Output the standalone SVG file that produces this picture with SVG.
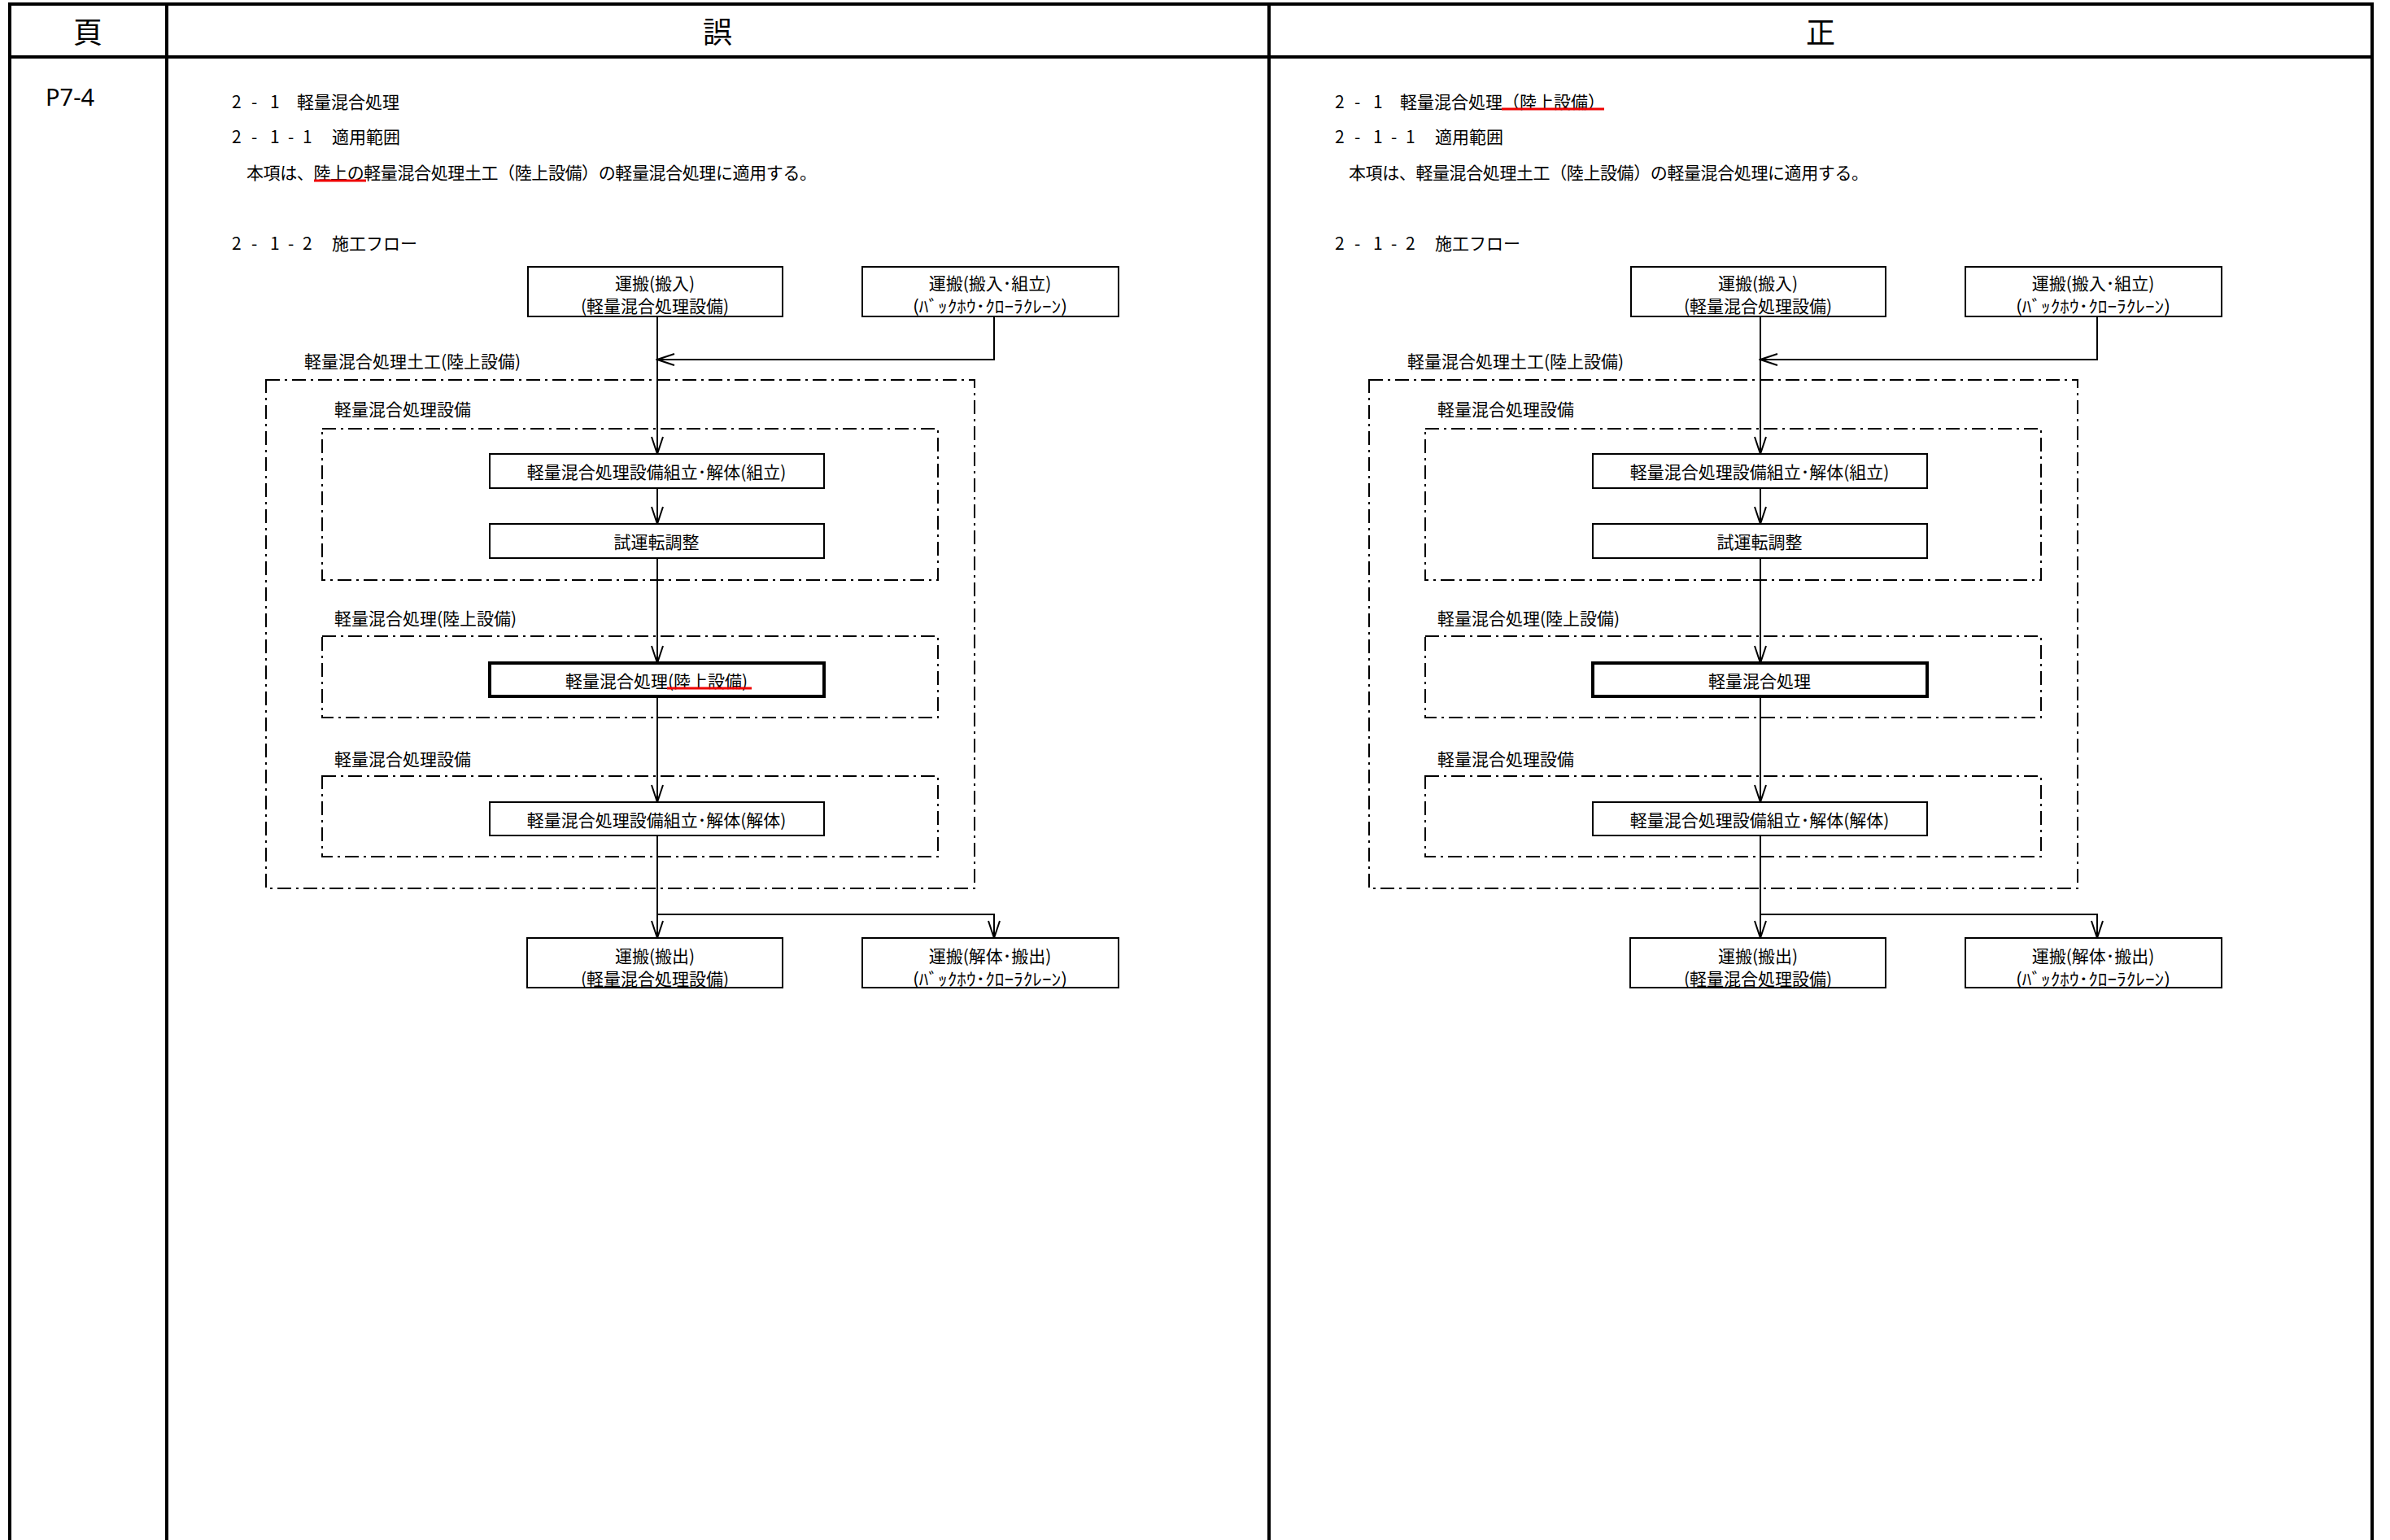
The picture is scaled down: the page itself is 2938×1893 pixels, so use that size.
<svg xmlns="http://www.w3.org/2000/svg" width="2938" height="1893" viewBox="0 0 2938 1893">
<style>
.t{font-family:'Noto Sans CJK JP','Noto Sans',sans-serif;font-size:21px;fill:#000;dominant-baseline:central}
.c{text-anchor:middle}
.hd{font-size:36px}
.pg{font-family:'Noto Sans','Noto Sans CJK JP',sans-serif;font-size:29px;fill:#000}
.box{fill:#fff;stroke:#000;stroke-width:2}
.thick{stroke-width:4}
.dd{fill:none;stroke:#000;stroke-width:2;stroke-dasharray:17 6 3 6}
.conn{fill:none;stroke:#000;stroke-width:2}
.red{stroke:#e00;stroke-width:3}
.frame{stroke:#000;stroke-width:4}
</style>
<defs>
<marker id="arr" markerUnits="userSpaceOnUse" viewBox="-23 -9 25 18" refX="0" refY="0" markerWidth="25" markerHeight="18" orient="auto">
<path d="M-21,-7 L0,0 L-21,7" fill="none" stroke="#000" stroke-width="2"/>
</marker>
</defs>
<rect x="0" y="0" width="2938" height="1893" fill="#fff"/>
<g id="table">
<line class="frame" x1="10" y1="5" x2="2918" y2="5"/>
<line class="frame" x1="10" y1="70" x2="2918" y2="70"/>
<line class="frame" x1="12" y1="3" x2="12" y2="1893"/>
<line class="frame" x1="205" y1="3" x2="205" y2="1893"/>
<line class="frame" x1="1560" y1="3" x2="1560" y2="1893"/>
<line class="frame" x1="2916" y1="3" x2="2916" y2="1893"/>
<text class="t c hd" x="108" y="37">頁</text>
<text class="t c hd" x="882" y="37">誤</text>
<text class="t c hd" x="2238" y="37">正</text>
<text class="pg" x="56" y="130">P7-4</text>
</g>

<!-- LEFT (誤) -->
<g id="L-text">
<text class="t" x="285 309 332" y="124">2-1</text>
<text class="t" x="365" y="124">軽量混合処理</text>
<text class="t" x="285 309 332 354 372" y="167">2-1-1</text>
<text class="t" x="408" y="167">適用範囲</text>
<text class="t" x="303" y="211" textLength="701" lengthAdjust="spacing">本項は、陸上の軽量混合処理土工（陸上設備）の軽量混合処理に適用する。</text>
<line class="red" x1="386" y1="222" x2="450" y2="222"/>
<text class="t" x="285 309 332 354 372" y="298">2-1-2</text>
<text class="t" x="408" y="298">施工フロー</text>
</g>
<g id="L-groups">
<rect class="dd" x="327" y="467" width="871" height="625"/>
<text class="t" x="374" y="443">軽量混合処理土工(陸上設備)</text>
<rect class="dd" x="396" y="527" width="757" height="186"/>
<text class="t" x="411" y="502">軽量混合処理設備</text>
<rect class="dd" x="396" y="782" width="757" height="100"/>
<text class="t" x="411" y="759">軽量混合処理(陸上設備)</text>
<rect class="dd" x="396" y="954" width="757" height="99"/>
<text class="t" x="411" y="932">軽量混合処理設備</text>
</g>
<g id="L-connectors">
<path class="conn" d="M808,389 V558" marker-end="url(#arr)"/>
<path class="conn" d="M1222,389 V442 H808" marker-end="url(#arr)"/>
<path class="conn" d="M808,600 V644" marker-end="url(#arr)"/>
<path class="conn" d="M808,686 V815" marker-end="url(#arr)"/>
<path class="conn" d="M808,856 V986" marker-end="url(#arr)"/>
<path class="conn" d="M808,1027 V1153" marker-end="url(#arr)"/>
<path class="conn" d="M808,1124 H1222 V1153" marker-end="url(#arr)"/>
</g>
<g id="L-A">
<rect class="box" x="649" y="328" width="313" height="61"/>
<text class="t c" x="805" y="347">運搬(搬入)</text>
<text class="t c" x="805" y="375">(軽量混合処理設備)</text>
</g>
<g id="L-B">
<rect class="box" x="1060" y="328" width="315" height="61"/>
<text class="t c" x="1217" y="347">運搬(搬入･組立)</text>
<text class="t c" x="1217" y="375" textLength="190" lengthAdjust="spacingAndGlyphs">(ﾊﾞｯｸﾎｳ･ｸﾛｰﾗｸﾚｰﾝ)</text>
</g>
<g id="L-C">
<rect class="box" x="602" y="558" width="411" height="42"/>
<text class="t c" x="807" y="579">軽量混合処理設備組立･解体(組立)</text>
</g>
<g id="L-D">
<rect class="box" x="602" y="644" width="411" height="42"/>
<text class="t c" x="807" y="665">試運転調整</text>
</g>
<g id="L-E">
<rect class="box thick" x="602" y="815" width="411" height="41"/>
<text class="t c" x="807" y="836">軽量混合処理(陸上設備)</text>
<line class="red" x1="820" y1="846" x2="924" y2="846"/>
</g>
<g id="L-F">
<rect class="box" x="602" y="986" width="411" height="41"/>
<text class="t c" x="807" y="1007">軽量混合処理設備組立･解体(解体)</text>
</g>
<g id="L-G">
<rect class="box" x="648" y="1153" width="314" height="61"/>
<text class="t c" x="805" y="1174">運搬(搬出)</text>
<text class="t c" x="805" y="1202">(軽量混合処理設備)</text>
</g>
<g id="L-H">
<rect class="box" x="1060" y="1153" width="315" height="61"/>
<text class="t c" x="1217" y="1174">運搬(解体･搬出)</text>
<text class="t c" x="1217" y="1202" textLength="190" lengthAdjust="spacingAndGlyphs">(ﾊﾞｯｸﾎｳ･ｸﾛｰﾗｸﾚｰﾝ)</text>
</g>

<!-- RIGHT (正) -->
<g transform="translate(1356,0)">
<g id="R-text">
<text class="t" x="285 309 332" y="124">2-1</text>
<text class="t" x="365" y="124">軽量混合処理（陸上設備）</text>
<line class="red" x1="490" y1="134" x2="616" y2="134"/>
<text class="t" x="285 309 332 354 372" y="167">2-1-1</text>
<text class="t" x="408" y="167">適用範囲</text>
<text class="t" x="302" y="211" textLength="639" lengthAdjust="spacing">本項は、軽量混合処理土工（陸上設備）の軽量混合処理に適用する。</text>
<text class="t" x="285 309 332 354 372" y="298">2-1-2</text>
<text class="t" x="408" y="298">施工フロー</text>
</g>
<g id="R-groups">
<rect class="dd" x="327" y="467" width="871" height="625"/>
<text class="t" x="374" y="443">軽量混合処理土工(陸上設備)</text>
<rect class="dd" x="396" y="527" width="757" height="186"/>
<text class="t" x="411" y="502">軽量混合処理設備</text>
<rect class="dd" x="396" y="782" width="757" height="100"/>
<text class="t" x="411" y="759">軽量混合処理(陸上設備)</text>
<rect class="dd" x="396" y="954" width="757" height="99"/>
<text class="t" x="411" y="932">軽量混合処理設備</text>
</g>
<g id="R-connectors">
<path class="conn" d="M808,389 V558" marker-end="url(#arr)"/>
<path class="conn" d="M1222,389 V442 H808" marker-end="url(#arr)"/>
<path class="conn" d="M808,600 V644" marker-end="url(#arr)"/>
<path class="conn" d="M808,686 V815" marker-end="url(#arr)"/>
<path class="conn" d="M808,856 V986" marker-end="url(#arr)"/>
<path class="conn" d="M808,1027 V1153" marker-end="url(#arr)"/>
<path class="conn" d="M808,1124 H1222 V1153" marker-end="url(#arr)"/>
</g>
<g id="R-A">
<rect class="box" x="649" y="328" width="313" height="61"/>
<text class="t c" x="805" y="347">運搬(搬入)</text>
<text class="t c" x="805" y="375">(軽量混合処理設備)</text>
</g>
<g id="R-B">
<rect class="box" x="1060" y="328" width="315" height="61"/>
<text class="t c" x="1217" y="347">運搬(搬入･組立)</text>
<text class="t c" x="1217" y="375" textLength="190" lengthAdjust="spacingAndGlyphs">(ﾊﾞｯｸﾎｳ･ｸﾛｰﾗｸﾚｰﾝ)</text>
</g>
<g id="R-C">
<rect class="box" x="602" y="558" width="411" height="42"/>
<text class="t c" x="807" y="579">軽量混合処理設備組立･解体(組立)</text>
</g>
<g id="R-D">
<rect class="box" x="602" y="644" width="411" height="42"/>
<text class="t c" x="807" y="665">試運転調整</text>
</g>
<g id="R-E">
<rect class="box thick" x="602" y="815" width="411" height="41"/>
<text class="t c" x="807" y="836">軽量混合処理</text>
</g>
<g id="R-F">
<rect class="box" x="602" y="986" width="411" height="41"/>
<text class="t c" x="807" y="1007">軽量混合処理設備組立･解体(解体)</text>
</g>
<g id="R-G">
<rect class="box" x="648" y="1153" width="314" height="61"/>
<text class="t c" x="805" y="1174">運搬(搬出)</text>
<text class="t c" x="805" y="1202">(軽量混合処理設備)</text>
</g>
<g id="R-H">
<rect class="box" x="1060" y="1153" width="315" height="61"/>
<text class="t c" x="1217" y="1174">運搬(解体･搬出)</text>
<text class="t c" x="1217" y="1202" textLength="190" lengthAdjust="spacingAndGlyphs">(ﾊﾞｯｸﾎｳ･ｸﾛｰﾗｸﾚｰﾝ)</text>
</g>
</g>
</svg>
